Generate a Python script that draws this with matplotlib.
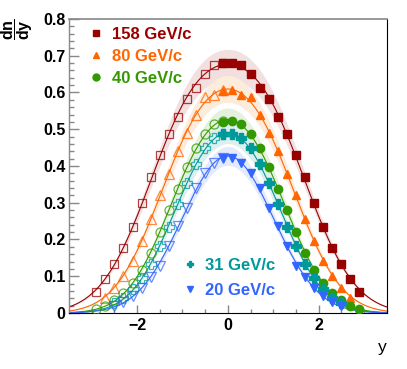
import numpy as np
import matplotlib
matplotlib.use("Agg")
import matplotlib.pyplot as plt
from matplotlib.lines import Line2D
from matplotlib.ticker import MultipleLocator

plt.rcParams["font.family"] = ["Liberation Sans", "DejaVu Sans"]
plt.rcParams["font.weight"] = "bold"
plt.rcParams["mathtext.fontset"] = "custom"
plt.rcParams["mathtext.rm"] = "Liberation Sans:bold"
plt.rcParams["mathtext.it"] = "Liberation Sans:bold"
plt.rcParams["mathtext.bf"] = "Liberation Sans:bold"

# ---------------------------------------------------------------------------
# Data (measured points, y >= -0.1; open symbols are reflections)
# ---------------------------------------------------------------------------
y_158 = [-0.1, 0.1, 0.3, 0.5, 0.7, 0.9, 1.1, 1.3, 1.5, 1.7, 1.9, 2.1, 2.3, 2.5, 2.7, 2.9]
v_158 = [0.679, 0.681, 0.675, 0.650, 0.613, 0.581, 0.534, 0.486, 0.430, 0.369,
         0.300, 0.234, 0.177, 0.133, 0.092, 0.057]

y_80 = [-0.1, 0.1, 0.3, 0.5, 0.7, 0.9, 1.1, 1.3, 1.5, 1.7, 1.9, 2.1, 2.3, 2.5, 2.7]
v_80 = [0.605, 0.607, 0.594, 0.587, 0.540, 0.491, 0.442, 0.377, 0.320, 0.255,
        0.197, 0.142, 0.102, 0.069, 0.042]

y_40 = [-0.1, 0.1, 0.3, 0.5, 0.7, 0.9, 1.1, 1.3, 1.5, 1.7, 1.9, 2.1, 2.3, 2.5, 2.7, 2.9]
v_40 = [0.521, 0.523, 0.513, 0.487, 0.450, 0.398, 0.337, 0.280, 0.221, 0.162,
        0.118, 0.081, 0.055, 0.034, 0.020, 0.012]

y_31 = [-0.1, 0.1, 0.3, 0.5, 0.7, 0.9, 1.1, 1.3, 1.5, 1.7, 1.9, 2.1, 2.3, 2.5]
v_31 = [0.487, 0.487, 0.475, 0.450, 0.405, 0.355, 0.297, 0.235, 0.182, 0.133,
        0.096, 0.064, 0.041, 0.026]

y_20 = [-0.1, 0.1, 0.3, 0.5, 0.7, 0.9, 1.1, 1.3, 1.5, 1.7, 1.9, 2.1, 2.3, 2.5]
v_20 = [0.423, 0.423, 0.407, 0.380, 0.339, 0.287, 0.238, 0.182, 0.128, 0.099,
        0.067, 0.046, 0.031, 0.020]

labels = ["158 GeV/c", "80 GeV/c", "40 GeV/c", "31 GeV/c", "20 GeV/c"]
colors = ["#990000", "#ff6600", "#339900", "#009999", "#3366ff"]
band_colors = ["#f2e0e0", "#fdebdc", "#e4f1dc", "#dbefee", "#e2eafc"]
markers = ["s", "^", "o", "P", "v"]
msizes = [5.5, 6.0, 6.0, 6.5, 6.0]

series = [(y_158, v_158), (y_80, v_80), (y_40, v_40), (y_31, v_31), (y_20, v_20)]


def fit_dgauss(y, v):
    """Symmetric double gaussian, simple grid search."""
    y = np.asarray(y)
    v = np.asarray(v)
    best = None
    for y0 in np.linspace(0.0, 1.5, 61):
        for s in np.linspace(0.4, 2.0, 81):
            g = np.exp(-(y - y0) ** 2 / (2 * s * s)) + np.exp(-(y + y0) ** 2 / (2 * s * s))
            a = (g @ v) / (g @ g)
            r = ((a * g - v) ** 2).sum()
            if best is None or r < best[0]:
                best = (r, a, y0, s)
    _, a, y0, s = best
    return lambda x: a * (np.exp(-(x - y0) ** 2 / (2 * s * s)) + np.exp(-(x + y0) ** 2 / (2 * s * s)))


# ---------------------------------------------------------------------------
# Figure
# ---------------------------------------------------------------------------
fig = plt.figure(figsize=(4.07, 3.69), dpi=100)
ax = fig.add_axes([0.1695, 0.1518, 0.7806, 0.7967])

xx = np.linspace(-3.5, 3.5, 400)
fits = []
for (y, v), bc in zip(series, band_colors):
    yy = np.concatenate([y, -np.asarray(y)])
    vv = np.concatenate([v, v])
    f = fit_dgauss(yy, vv)
    fits.append(f)
    ax.fill_between(xx, f(xx) * 0.94, f(xx) * 1.06, color=bc, lw=0, zorder=1)

for f, c in zip(fits, colors):
    ax.plot(xx, f(xx), color=c, lw=0.8, zorder=2)

for (y, v), c, m, ms in zip(series, colors, markers, msizes):
    y = np.asarray(y)
    v = np.asarray(v)
    pos = y > 0
    ax.plot(-y[pos], v[pos], ls="none", marker=m, ms=ms + 0.5, mfc="none",
            mec=c, mew=0.9, alpha=0.75, zorder=3)
    ax.plot(y, v, ls="none", marker=m, ms=ms, color=c, mec=c, zorder=4)

ax.set_xlim(-3.5, 3.5)
ax.set_ylim(0, 0.8)
ax.xaxis.set_major_locator(MultipleLocator(2))
ax.xaxis.set_minor_locator(MultipleLocator(0.5))
ax.yaxis.set_major_locator(MultipleLocator(0.1))
ax.yaxis.set_minor_locator(MultipleLocator(0.02))
ax.yaxis.set_major_formatter(plt.FuncFormatter(lambda v, p: "0" if v == 0 else f"{v:.1f}"))

ax.tick_params(axis="y", which="major", direction="in", length=7.2, width=1,
               color="#888888", labelsize=11.5, pad=2.5)
ax.tick_params(axis="y", which="minor", direction="in", length=3.6, width=1, color="#888888")
ax.tick_params(axis="x", which="major", direction="in", length=5.8, width=1,
               color="#888888", labelsize=11.5, pad=3.5)
ax.tick_params(axis="x", which="minor", direction="in", length=2.9, width=1, color="#888888")

ax.spines["left"].set_color("#888888")
ax.spines["top"].set_color("#888888")
ax.spines["top"].set_linewidth(1.2)
ax.spines["left"].set_linewidth(1.0)
ax.spines["right"].set_color("black")
ax.spines["bottom"].set_color("black")

ax.set_xlabel("y", fontsize=12.5, loc="right", labelpad=5)
fig.text(0.043, 0.922, r"$\dfrac{dn}{dy}$", rotation=90, fontsize=11.5,
         ha="center", va="center")

# Legends
handles = [Line2D([], [], ls="none", marker=m, ms=5, color=c)
           for m, c in zip(markers, colors)]
leg1 = ax.legend(handles[:3], labels[:3], loc="upper left", bbox_to_anchor=(0.045, 0.995),
                 frameon=False, fontsize=12, handlelength=0.7, handletextpad=0.6,
                 labelspacing=0.42, labelcolor=colors[:3], borderaxespad=0)
ax.add_artist(leg1)
ax.legend(handles[3:], labels[3:], loc="upper left", bbox_to_anchor=(0.34, 0.21),
          frameon=False, fontsize=12, handlelength=0.7, handletextpad=0.6,
          labelspacing=0.6, labelcolor=colors[3:], borderaxespad=0)

fig.savefig("out.png", dpi=100)
